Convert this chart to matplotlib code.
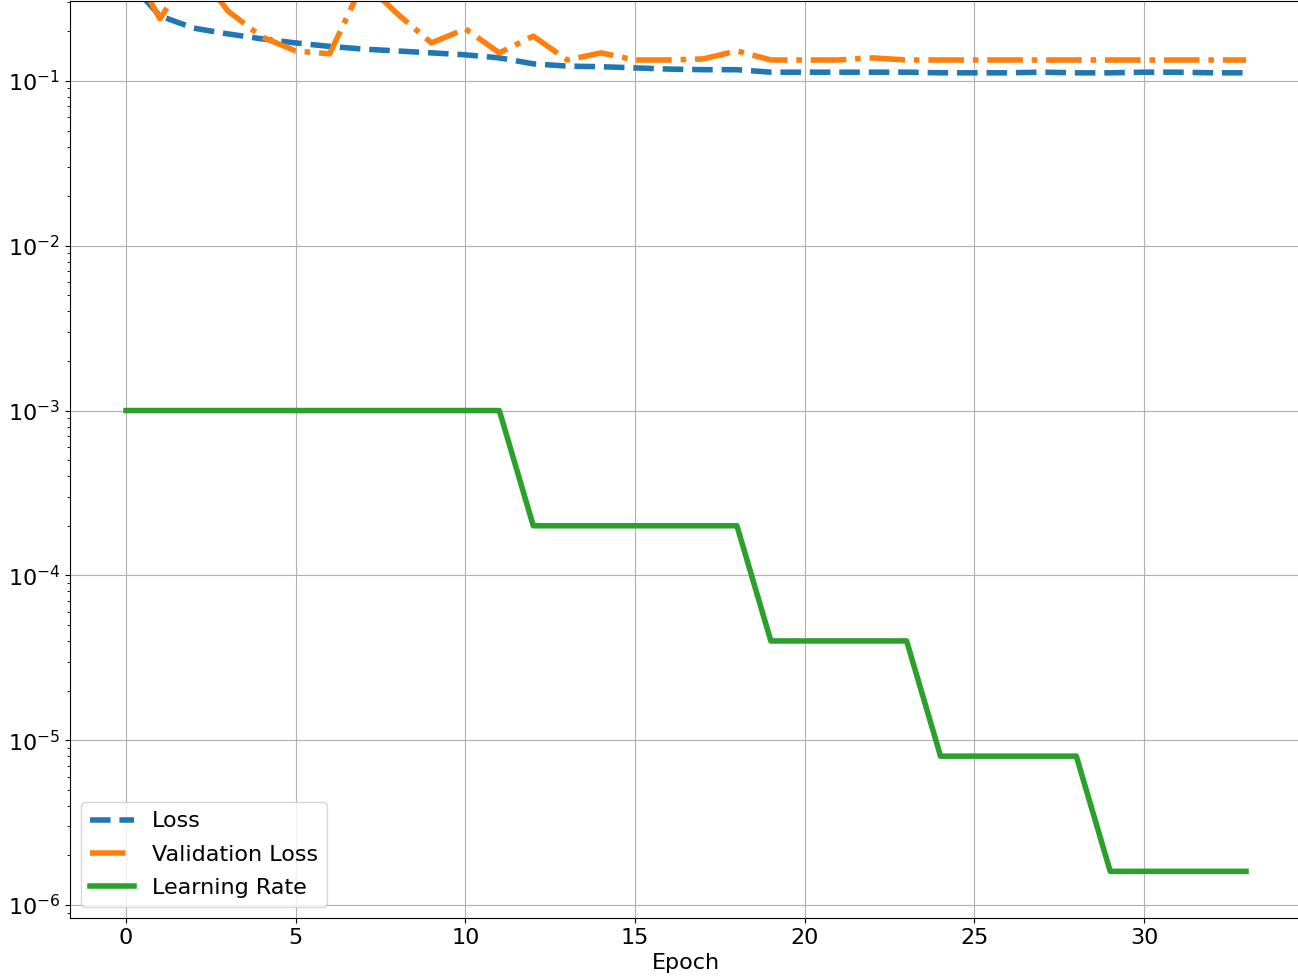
import matplotlib
matplotlib.use("Agg")
import matplotlib.pyplot as plt

epochs = list(range(34))

loss = [0.42, 0.248, 0.209, 0.193, 0.18, 0.17, 0.162, 0.156, 0.152, 0.148,
        0.144, 0.138, 0.127, 0.123, 0.122, 0.12, 0.118, 0.117, 0.117, 0.113,
        0.113, 0.113, 0.113, 0.113, 0.112, 0.112, 0.112, 0.113, 0.112, 0.112,
        0.113, 0.113, 0.112, 0.112]

val_loss = [0.57, 0.238, 0.5, 0.266, 0.185, 0.152, 0.146, 0.4, 0.255, 0.17,
            0.207, 0.148, 0.187, 0.134, 0.148, 0.134, 0.134, 0.136, 0.152, 0.134,
            0.134, 0.134, 0.138, 0.134, 0.134, 0.134, 0.134, 0.134, 0.134, 0.134,
            0.134, 0.134, 0.134, 0.134]

lr = [1e-3] * 12 + [2e-4] * 7 + [4e-5] * 5 + [8e-6] * 5 + [1.6e-6] * 5

plt.rcParams['font.size'] = 16

fig = plt.figure(figsize=(12.98, 9.77), dpi=100)
ax = fig.add_axes([70 / 1298, 59 / 977, 1232 / 1298, 917 / 977])

ax.plot(epochs, loss, color='tab:blue', linestyle='--', linewidth=4, label='Loss')
ax.plot(epochs, val_loss, color='tab:orange', linestyle='-.', linewidth=4, label='Validation Loss')
ax.plot(epochs, lr, color='tab:green', linestyle='-', linewidth=4, label='Learning Rate')

ax.set_yscale('log')
ax.set_xlim(-1.65, 34.65)
ax.set_ylim(10 ** -6.079, 10 ** -0.515)
ax.set_xlabel('Epoch', labelpad=4)
ax.grid(True)
ax.legend(loc='lower left', fontsize=16, labelspacing=0.6)

fig.savefig('out.png', dpi=100)
